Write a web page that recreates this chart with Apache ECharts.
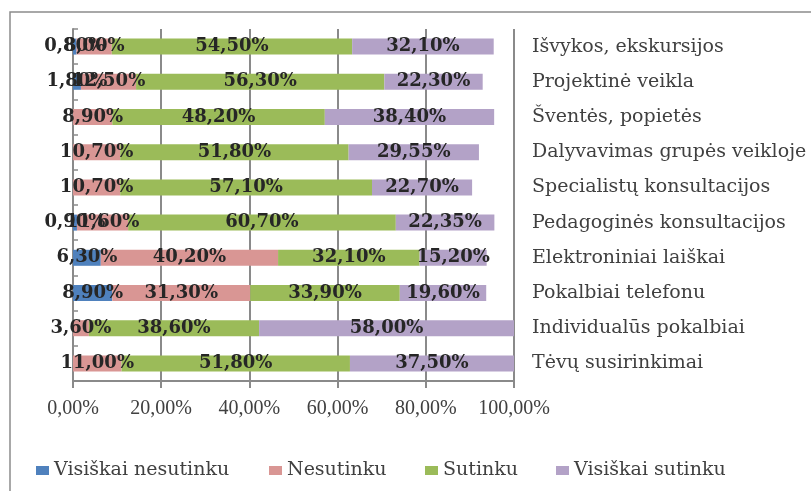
<!DOCTYPE html>
<html>
<head>
<meta charset="utf-8">
<script src="https://cdn.jsdelivr.net/npm/echarts@6/dist/echarts.min.js"></script>
<style>
  html, body { margin: 0; padding: 0; background: #ffffff; }
  #chart { width: 811px; height: 491px; }
</style>
</head>
<body>
<div id="chart"></div>
<script>
// Bendravimo formos (iš viršaus į apačią)
const categories = [
  'Išvykos, ekskursijos',
  'Projektinė veikla',
  'Šventės, popietės',
  'Dalyvavimas grupės veikloje',
  'Specialistų konsultacijos',
  'Pedagoginės konsultacijos',
  'Elektroniniai laiškai',
  'Pokalbiai telefonu',
  'Individualūs pokalbiai',
  'Tėvų susirinkimai'
];

// Atsakymų dalys, % (null – atsakymo nėra)
const visiskaiNesutinku = [0.80, 1.80, null, null, null, 0.90, 6.30, 8.90, null, null];
const nesutinku         = [8.00, 12.50, 8.90, 10.70, 10.70, 11.60, 40.20, 31.30, 3.60, 11.00];
const sutinku           = [54.50, 56.30, 48.20, 51.80, 57.10, 60.70, 32.10, 33.90, 38.60, 51.80];
const visiskaiSutinku   = [32.10, 22.30, 38.40, 29.55, 22.70, 22.35, 15.20, 19.60, 58.00, 37.50];

const xTicks = [0, 20, 40, 60, 80, 100];

const seriesNames = ['Visiškai nesutinku', 'Nesutinku', 'Sutinku', 'Visiškai sutinku'];
const seriesColors = ['#4F81BD', '#D99694', '#9BBB59', '#B3A2C7'];
const seriesData = [visiskaiNesutinku, nesutinku, sutinku, visiskaiSutinku];

const pct = v => v.toFixed(2).replace('.', ',') + '%';

const SERIF = '"DejaVu Serif", serif';
const TIMES = '"Liberation Serif", "Times New Roman", serif';
const AXIS_GRAY = '#8a8a8a';

const chart = echarts.init(document.getElementById('chart'), null, { renderer: 'canvas' });

// Legend item positions (one legend per series)
const legendLefts = [36, 269, 425, 556];

chart.setOption({
  animation: false,
  backgroundColor: '#ffffff',
  graphic: [{
    type: 'rect',
    shape: { x: 10, y: 12, width: 830, height: 500 },
    style: { fill: null, stroke: '#8c8c8c', lineWidth: 1.5 },
    silent: true,
    z: -10
  }],
  grid: { left: 73, top: 29, width: 441, height: 352, containLabel: false },
  xAxis: {
    type: 'value',
    min: xTicks[0],
    max: xTicks[xTicks.length - 1],
    interval: 20,
    axisLine: { show: true, lineStyle: { color: AXIS_GRAY, width: 2 } },
    axisTick: { show: true, length: 7, lineStyle: { color: AXIS_GRAY, width: 2 } },
    splitLine: { show: true, lineStyle: { color: AXIS_GRAY, width: 2 } },
    axisLabel: {
      margin: 18,
      color: '#404040',
      fontFamily: TIMES,
      fontSize: 20,
      formatter: v => pct(v)
    }
  },
  yAxis: {
    type: 'category',
    data: categories,
    inverse: true,
    position: 'right',
    axisLine: { show: true, lineStyle: { color: AXIS_GRAY, width: 2 } },
    axisTick: { show: true, inside: false, length: 5, lineStyle: { color: AXIS_GRAY, width: 1.5 } },
    splitLine: { show: false },
    axisLabel: {
      margin: 18,
      color: '#404040',
      fontFamily: SERIF,
      fontSize: 19
    }
  },
  legend: seriesNames.map((name, i) => ({
    data: [name],
    left: legendLefts[i],
    top: 461,
    padding: 0,
    icon: 'rect',
    itemWidth: 13,
    itemHeight: 9,
    itemGap: 0,
    selectedMode: false,
    textStyle: { color: '#404040', fontFamily: SERIF, fontSize: 19 }
  })),
  series: seriesNames.map((name, i) => ({
    name: name,
    type: 'bar',
    stack: 'total',
    barWidth: 16,
    clip: true,
    itemStyle: { color: seriesColors[i] },
    label: {
      show: true,
      position: 'inside',
      color: '#262626',
      fontFamily: SERIF,
      fontWeight: 'bold',
      fontSize: 18,
      textBorderWidth: 0,
      formatter: p => (p.value == null ? '' : pct(p.value))
    },
    data: seriesData[i]
  }))
});
</script>
</body>
</html>
